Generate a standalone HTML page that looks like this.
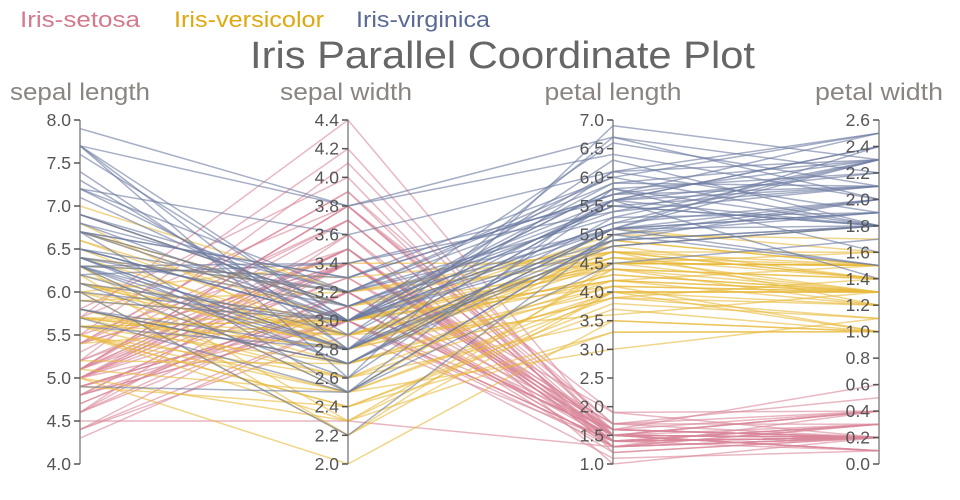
<!DOCTYPE html>
<html><head><meta charset="utf-8"><style>
html,body{margin:0;padding:0;background:#fff;}
svg{display:block;font-family:"Liberation Sans",sans-serif;}
.t{font-size:17.5px;fill:#555;text-anchor:end;}
.h{font-size:24px;fill:#8a8580;text-anchor:middle;}
</style></head><body>
<svg id="s" width="960" height="500" viewBox="0 0 960 500">
<text x="20" y="27" font-size="22" fill="#d5798c" textLength="120" lengthAdjust="spacingAndGlyphs">Iris-setosa</text>
<text x="174" y="27" font-size="22" fill="#e0a70f" textLength="150" lengthAdjust="spacingAndGlyphs">Iris-versicolor</text>
<text x="356" y="27" font-size="22" fill="#5a6a96" textLength="134" lengthAdjust="spacingAndGlyphs">Iris-virginica</text>
<text x="250" y="68" font-size="38" fill="#666" textLength="505" lengthAdjust="spacingAndGlyphs">Iris Parallel Coordinate Plot</text>
<text class="h" x="80" y="100" textLength="140" lengthAdjust="spacingAndGlyphs">sepal length</text>
<text class="h" x="346" y="100" textLength="132" lengthAdjust="spacingAndGlyphs">sepal width</text>
<text class="h" x="613" y="100" textLength="137" lengthAdjust="spacingAndGlyphs">petal length</text>
<text class="h" x="879" y="100" textLength="128" lengthAdjust="spacingAndGlyphs">petal width</text>
<g id="lines"></g>
<g stroke="#888" stroke-width="1.5">
<line x1="80" y1="120" x2="80" y2="464"/><line x1="348" y1="120" x2="348" y2="464"/>
<line x1="613" y1="120" x2="613" y2="464"/><line x1="879" y1="120" x2="879" y2="464"/>
</g>
<g id="ticks" stroke="#555" stroke-width="1.5"></g>
<g transform="translate(71,0)">
<text class="t" y="470">4.0</text><text class="t" y="427">4.5</text><text class="t" y="384">5.0</text><text class="t" y="341">5.5</text><text class="t" y="298">6.0</text><text class="t" y="255">6.5</text><text class="t" y="212">7.0</text><text class="t" y="169">7.5</text><text class="t" y="126">8.0</text>
</g>
<g transform="translate(339,0)">
<text class="t" y="470">2.0</text><text class="t" y="441.3">2.2</text><text class="t" y="412.7">2.4</text><text class="t" y="384">2.6</text><text class="t" y="355.3">2.8</text><text class="t" y="326.7">3.0</text><text class="t" y="298">3.2</text><text class="t" y="269.3">3.4</text><text class="t" y="240.7">3.6</text><text class="t" y="212">3.8</text><text class="t" y="183.3">4.0</text><text class="t" y="154.7">4.2</text><text class="t" y="126">4.4</text>
</g>
<g transform="translate(604,0)">
<text class="t" y="470">1.0</text><text class="t" y="441.3">1.5</text><text class="t" y="412.7">2.0</text><text class="t" y="384">2.5</text><text class="t" y="355.3">3.0</text><text class="t" y="326.7">3.5</text><text class="t" y="298">4.0</text><text class="t" y="269.3">4.5</text><text class="t" y="240.7">5.0</text><text class="t" y="212">5.5</text><text class="t" y="183.3">6.0</text><text class="t" y="154.7">6.5</text><text class="t" y="126">7.0</text>
</g>
<g transform="translate(870,0)">
<text class="t" y="470">0.0</text><text class="t" y="443.5">0.2</text><text class="t" y="417.1">0.4</text><text class="t" y="390.6">0.6</text><text class="t" y="364.2">0.8</text><text class="t" y="337.7">1.0</text><text class="t" y="311.2">1.2</text><text class="t" y="284.8">1.4</text><text class="t" y="258.3">1.6</text><text class="t" y="231.8">1.8</text><text class="t" y="205.4">2.0</text><text class="t" y="178.9">2.2</text><text class="t" y="152.5">2.4</text><text class="t" y="126">2.6</text>
</g>
</svg>
<script>
var D="51351402 49301402 47321302 46311502 50361402 54391704 46341403 50341502 44291402 49311501 54371502 48341602 48301401 43301101 58401202 57441504 54391304 51351403 57381703 51381503 54341702 51371504 46361002 51331705 48341902 50301602 50341604 52351502 52341402 47321602 48311602 54341504 52411501 55421402 49311501 50321202 55351302 49311501 44301302 51341502 50351303 45231303 44321302 50351606 51381904 48301403 51381602 46321402 53371502 50331402 "+
"70324714 64324515 69314915 55234013 65284615 57284513 63334716 49243310 66294613 52273914 50203510 59304215 60224010 61294714 56293613 67314414 56304515 58274110 62224515 56253911 59324818 61284013 63254915 61284712 64294313 66304414 68284814 67305017 60294515 57263510 55243811 55243710 58273912 60275116 54304515 60344516 67314715 63234413 56304113 55254013 55264412 61304614 58264012 50233310 56274213 57304212 57294213 62294313 51253011 57284113 "+
"63336025 58275119 71305921 63295618 65305822 76306621 49254517 73296318 67255818 72366125 65325120 64275319 68305521 57255020 58285124 64325323 65305518 77386722 77266923 60225015 69325723 56284920 77286720 63274918 67335721 72326018 62284818 61304918 64285621 72305816 74286119 79386420 64285622 63285115 61265614 77306123 63345624 64315518 60304818 69315421 67315624 69315123 58275119 68325923 67335725 67305223 63255019 65305220 62345423 59305118";
var rows=D.split(" "),X=[80,348,613,879],R=[[4,8],[2,4.4],[1,7],[0,2.6]];
var C=["#d8879a","#e8b93a","#6a7aa0"];
var h="";
rows.forEach(function(r,i){var p=[];for(var k=0;k<4;k++){var v=parseInt(r.substr(k*2,2))/10;var y=464-(v-R[k][0])/(R[k][1]-R[k][0])*344;p.push(X[k]+","+y.toFixed(1));}
h+='<polyline points="'+p.join(" ")+'" fill="none" stroke="'+C[Math.floor(i/50)]+'" stroke-opacity="0.6" stroke-width="1.5"/>';});
document.getElementById("lines").innerHTML=h;
var n=[9,13,13,14],t="";
for(var k=0;k<4;k++){for(var j=0;j<n[k];j++){var y=464-j*344/(n[k]-1);t+='<line x1="'+(X[k]-6)+'" y1="'+y+'" x2="'+X[k]+'" y2="'+y+'"/>';}}
document.getElementById("ticks").innerHTML=t;
</script>
</body></html>
